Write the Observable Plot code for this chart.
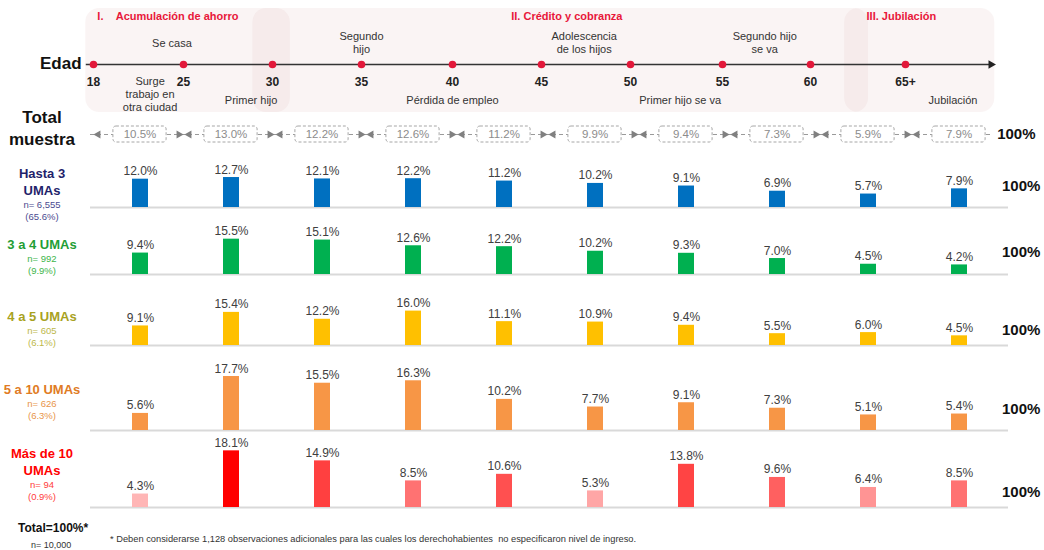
<!DOCTYPE html>
<html><head><meta charset="utf-8">
<script src="https://cdn.jsdelivr.net/npm/d3@7"></script>
<script src="https://cdn.jsdelivr.net/npm/@observablehq/plot@0.6"></script>
<style>
body{margin:0;background:#fff;font-family:"Liberation Sans",Arial,sans-serif;}
#root{position:relative;width:1044px;height:550px;overflow:hidden;background:#fff;}
#root svg{position:absolute;left:0;}
.t{position:absolute;white-space:pre;}
.blk{position:absolute;left:0;width:84px;text-align:center;transform:translateY(-50%);}
.nm{font-weight:bold;font-size:13px;line-height:17px;}
.sb{font-size:9.5px;line-height:11.5px;}
</style></head><body><div id="root"></div>
<script>
// ---------- data ----------
const columns = ["18-24","25-29","30-34","35-39","40-44","45-49","50-54","55-59","60-64","65+"];
const totalSample = [10.5,13.0,12.2,12.6,11.2,9.9,9.4,7.3,5.9,7.9];
const hasta3 = [12.0,12.7,12.1,12.2,11.2,10.2,9.1,6.9,5.7,7.9];
const de3a4  = [9.4,15.5,15.1,12.6,12.2,10.2,9.3,7.0,4.5,4.2];
const de4a5  = [9.1,15.4,12.2,16.0,11.1,10.9,9.4,5.5,6.0,4.5];
const de5a10 = [5.6,17.7,15.5,16.3,10.2,7.7,9.1,7.3,5.1,5.4];
const mas10  = [4.3,18.1,14.9,8.5,10.6,5.3,13.8,9.6,6.4,8.5];
const groupNames = [["Hasta 3","UMAs"],["3 a 4 UMAs"],["4 a 5 UMAs"],["5 a 10 UMAs"],["Más de 10","UMAs"]];
const groupN = ["6,555","992","605","626","94"];
const groupShare = ["65.6%","9.9%","6.1%","6.3%","0.9%"];

const ageTicks = [18,25,30,35,40,45,50,55,60,65];
const ageTickLabels = ["18","25","30","35","40","45","50","55","60","65+"];
const eventLabels = ["Se casa","Surge\ntrabajo en\notra ciudad","Primer hijo","Segundo\nhijo","Pérdida de empleo","Adolescencia\nde los hijos","Primer hijo se va","Segundo hijo\nse va","Jubilación"];
const eventAges = [24.1,22.4,28.8,35,40,47.4,52.7,57.4,67.5];
const eventSides = ["above","below","below","above","below","above","below","above","below"];
const phaseTitles = ["I.\u00a0\u00a0\u00a0\u00a0Acumulación de ahorro","II. Crédito y cobranza","III. Jubilación"];
const phaseStart = [17.4,28.9,61.8];
const phaseEnd = [31.0,63.05,69.7];
const phaseTitleAge = [18.3,43.3,62.95];
const timelineSpan = {start:17.4, end:69.5};

// ---------- layout (pixels, styling only) ----------
const FONT = "Liberation Sans, Arial, sans-serif";
const agePixels = [93,183,272,361,452,541,630,722,810,905];
const rowLayout = [
  {base:207, k:2.36, fill:"#0070c0", name:"#1f1f6b", sub:"#4b4b8f", center:193, pctY:186},
  {base:274, k:2.28, fill:"#00b050", name:"#1f9e35", sub:"#3db54a", center:256, pctY:252},
  {base:345, k:2.15, fill:"#ffc000", name:"#a8a21f", sub:"#bdb84a", center:328, pctY:330},
  {base:430, k:3.05, fill:"#f79646", name:"#e07b24", sub:"#e8954a", center:401, pctY:409},
  {base:507, k:3.13, fill:null,      name:"#ff0000", sub:"#ff3b3b", center:473, pctY:492}
];
const series = [hasta3, de3a4, de4a5, de5a10, mas10];

const root = document.getElementById("root");
function put(svg, top){ svg.style.top = top + "px"; root.appendChild(svg); }
function txt(s, left, y, css){
  const d = document.createElement("div"); d.className = "t"; d.textContent = s;
  Object.assign(d.style, css); d.style.left = left + "px";
  const lh = parseFloat(css.fontSize) * 1.2; d.style.lineHeight = lh + "px"; d.style.top = (y - lh/2) + "px";
  root.appendChild(d); return d;
}

// ---------- header timeline ----------
const phases = phaseTitles.map((t,i)=>({title:t,start:phaseStart[i],end:phaseEnd[i],titleAge:phaseTitleAge[i]}));
const events = eventLabels.map((l,i)=>({label:l,age:eventAges[i],side:eventSides[i]}));
const above = events.filter(e=>e.side==="above");
const below = events.filter(e=>e.side==="below");
const header = Plot.plot({
  width:1044, height:116, marginTop:8, marginBottom:4, marginLeft:0, marginRight:0,
  x:{type:"linear", domain:ageTicks, range:agePixels, axis:null},
  y:{domain:[-1,1], range:[116,12], axis:null},
  style:{background:"transparent", fontFamily:FONT, overflow:"visible"},
  marks:[
    Plot.rect(phases,{x1:"start", x2:"end", fill:"#e0bcbc", fillOpacity:0.17, rx:14}),
    Plot.text(phases,{x:"titleAge", frameAnchor:"top", dy:4, text:"title", textAnchor:"start", fill:"#e8173a", fontWeight:"bold", fontSize:11}),
    Plot.link([timelineSpan],{x1:"start", x2:"end", y1:0, y2:0, stroke:"#333", strokeWidth:1.3}),
    Plot.dot([timelineSpan],{x:"end", y:0, symbol:"triangle", rotate:90, r:3.2, fill:"#222"}),
    Plot.dot(ageTicks,{x:d=>d, y:0, r:3.8, fill:"#e2183a"}),
    Plot.text(ageTicks,{x:d=>d, y:0, text:(d,i)=>ageTickLabels[i], dy:18, fontWeight:"bold", fontSize:12, fill:"#222"}),
    Plot.text(above,{x:"age", y:0, text:"label", lineAnchor:"middle", dy:-22, fontSize:11, fill:"#333", lineHeight:1.18}),
    Plot.text(below.filter(e=>e.label.includes("\n")),{x:"age", y:0, text:"label", lineAnchor:"top", dy:11, fontSize:11, fill:"#333", lineHeight:1.18}),
    Plot.text(below.filter(e=>!e.label.includes("\n")),{x:"age", y:0, text:"label", lineAnchor:"middle", dy:36, fontSize:11, fill:"#333"})
  ]
});
put(header, 0);

// ---------- total sample row ----------
const totalRows = columns.map((c,i)=>({col:c, value:totalSample[i]}));
const step = (1044 - 90 - 36) / columns.length;
const totalPlot = Plot.plot({
  width:1044, height:24, marginTop:0, marginBottom:0, marginLeft:90, marginRight:36,
  x:{domain:columns, padding:0, axis:null},
  y:{domain:[-1,1], axis:null},
  style:{background:"transparent", fontFamily:FONT, overflow:"visible"},
  marks:[
    Plot.ruleY([0],{stroke:"#9a9a9a", strokeDasharray:"4,3"}),
    Plot.dot(totalRows,{x:"col", y:0, symbol:"triangle", rotate:-90, r:3, fill:"#808080", dx:-(step/2 - 4)}),
    Plot.dot(totalRows,{x:"col", y:0, symbol:"triangle", rotate:90, r:3, fill:"#808080", dx:(step/2 - 7)}),
    Plot.cell(totalRows,{x:"col", fill:"white", stroke:"#a6a6a6", strokeDasharray:"3,2", insetLeft:(step-54)/2, insetRight:(step-54)/2, insetTop:4, insetBottom:4, rx:3}),
    Plot.text(totalRows,{x:"col", y:0, text:d=>d.value.toFixed(1)+"%", fill:"#8c8c8c", fontSize:11.5})
  ]
});
put(totalPlot, 122);

// ---------- income group rows ----------
const H = 92;
series.forEach((vals, gi) => {
  const L = rowLayout[gi];
  const rows = columns.map((c,i)=>({col:c, value:vals[i]}));
  const plot = Plot.plot({
    width:1044, height:H+3, marginTop:0, marginBottom:3, marginLeft:90, marginRight:36,
    x:{domain:columns, paddingInner:0.826, paddingOuter:0.413, axis:null},
    y:{domain:[0, H / L.k], axis:null},
    color:{type:"linear", domain:[4.3,10.6,15,18.1], range:["#ffb6b6","#ff5050","#ff4040","#ff0000"]},
    style:{background:"transparent", fontFamily:FONT, overflow:"visible"},
    marks:[
      Plot.ruleY([0],{stroke:"#d9d9d9", strokeWidth:2}),
      Plot.barY(rows,{x:"col", y:"value", fill: L.fill ? L.fill : "value"}),
      Plot.text(rows,{x:"col", y:"value", text:d=>d.value.toFixed(1)+"%", lineAnchor:"bottom", dy:-4, fontSize:12, fill:"#404040"})
    ]
  });
  put(plot, L.base - H);

  const blk = document.createElement("div"); blk.className = "blk"; blk.style.top = L.center + "px";
  groupNames[gi].forEach(s=>{ const d=document.createElement("div"); d.className="nm"; d.style.color=L.name; d.textContent=s; blk.appendChild(d); });
  [ "n= " + groupN[gi], "(" + groupShare[gi] + ")" ].forEach(s=>{ const d=document.createElement("div"); d.className="sb"; d.style.color=L.sub; d.textContent=s; blk.appendChild(d); });
  root.appendChild(blk);
  txt("100%", 1002, L.pctY, {fontSize:"15px", fontWeight:"bold", color:"#111"});
});

// ---------- other text ----------
txt("Edad", 40, 64, {fontSize:"17px", fontWeight:"bold", color:"#111"});
const tm = document.createElement("div"); tm.className="blk";
tm.style.top = "129px"; tm.style.fontSize="17px"; tm.style.fontWeight="bold"; tm.style.lineHeight="22px"; tm.style.color="#111";
tm.innerHTML = "Total<br>muestra"; root.appendChild(tm);
txt(" 100%", 993, 134, {fontSize:"15px", fontWeight:"bold", color:"#111", background:"#fff"});
txt("Total=100%*", 18, 528, {fontSize:"12px", fontWeight:"bold", color:"#111"});
txt("n= 10,000", 31, 545, {fontSize:"9px", color:"#333"});
txt("* Deben considerarse 1,128 observaciones adicionales para las cuales los derechohabientes  no especificaron nivel de ingreso.", 110, 540, {fontSize:"9.3px", color:"#333"});
</script>
</body></html>
